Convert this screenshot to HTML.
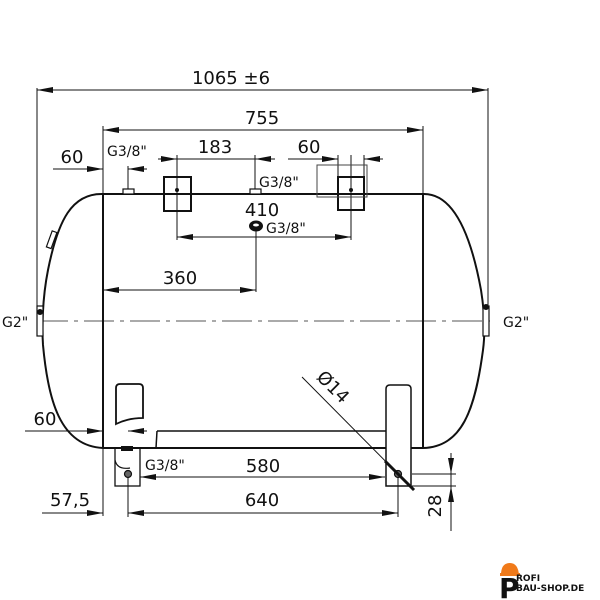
<!DOCTYPE html>
<html><head><meta charset="utf-8"><style>
html,body{margin:0;padding:0;background:#fff;}
svg{display:block;}
text{font-family:"DejaVu Sans","Liberation Sans",sans-serif;fill:#111;}
</style></head><body>
<svg width="600" height="600" viewBox="0 0 600 600" xmlns="http://www.w3.org/2000/svg">
<defs>
<marker id="a" viewBox="0 0 16 6" refX="16" refY="3" markerWidth="16" markerHeight="6" markerUnits="userSpaceOnUse" orient="auto"><path d="M0,0 L16,3 L0,6z" fill="#111"/></marker>
</defs>
<g stroke="#111" fill="none">
<g stroke-width="1">
<line x1="37" y1="88" x2="37" y2="320"/>
<line x1="488" y1="88" x2="488" y2="306"/>
<line x1="423" y1="126" x2="423" y2="194"/>
<line x1="103" y1="126" x2="103" y2="516"/>
<line x1="177" y1="155" x2="177" y2="240"/>
<line x1="255" y1="155" x2="255" y2="191"/>
<line x1="351" y1="155" x2="351" y2="240"/>
<line x1="338" y1="155" x2="338" y2="178"/>
<line x1="364" y1="155" x2="364" y2="178"/>
<line x1="128" y1="166" x2="128" y2="190"/>
<line x1="256" y1="230" x2="256" y2="292"/>
<line x1="128" y1="474" x2="128" y2="517"/>
<line x1="398" y1="474" x2="398" y2="517"/>
<line x1="412" y1="474" x2="456" y2="474"/>
<line x1="412" y1="486" x2="456" y2="486"/>
<line x1="451" y1="453" x2="451" y2="531"/>
</g>
<g stroke-width="1">
<line x1="60" y1="90" x2="37" y2="90" marker-end="url(#a)"/>
<line x1="60" y1="90" x2="488" y2="90" marker-end="url(#a)"/>
<line x1="150" y1="130" x2="103" y2="130" marker-end="url(#a)"/>
<line x1="150" y1="130" x2="423" y2="130" marker-end="url(#a)"/>
<line x1="53" y1="169" x2="103" y2="169" marker-end="url(#a)"/>
<line x1="147" y1="169" x2="128" y2="169" marker-end="url(#a)"/>
<line x1="158" y1="159" x2="177" y2="159" marker-end="url(#a)"/>
<line x1="177" y1="159" x2="255" y2="159"/>
<line x1="275" y1="159" x2="255" y2="159" marker-end="url(#a)"/>
<line x1="288" y1="159" x2="338" y2="159" marker-end="url(#a)"/>
<line x1="383" y1="159" x2="364" y2="159" marker-end="url(#a)"/>
<line x1="260" y1="237" x2="177" y2="237" marker-end="url(#a)"/>
<line x1="260" y1="237" x2="351" y2="237" marker-end="url(#a)"/>
<line x1="180" y1="290" x2="103" y2="290" marker-end="url(#a)"/>
<line x1="180" y1="290" x2="256" y2="290" marker-end="url(#a)"/>
<line x1="25" y1="431" x2="103" y2="431" marker-end="url(#a)"/>
<line x1="147" y1="431" x2="128" y2="431" marker-end="url(#a)"/>
<line x1="260" y1="477" x2="140" y2="477" marker-end="url(#a)"/>
<line x1="260" y1="477" x2="385" y2="477" marker-end="url(#a)"/>
<line x1="42" y1="513" x2="103" y2="513" marker-end="url(#a)"/>
<line x1="160" y1="513" x2="128" y2="513" marker-end="url(#a)"/>
<line x1="160" y1="513" x2="398" y2="513" marker-end="url(#a)"/>
<line x1="451" y1="453" x2="451" y2="474" marker-end="url(#a)"/>
<line x1="451" y1="506" x2="451" y2="486" marker-end="url(#a)"/>
</g>
<line x1="38" y1="321" x2="490" y2="321" stroke-width="1" stroke="#555" stroke-dasharray="30,6,4,6"/>
<g stroke-width="2">
<line x1="103" y1="194" x2="423" y2="194"/>
<line x1="103" y1="194" x2="103" y2="448"/>
<line x1="423" y1="194" x2="423" y2="448"/>
<line x1="103" y1="448" x2="386" y2="448"/>
<line x1="411" y1="448" x2="423" y2="448"/>
<path d="M103,194 C72,193 58,220 48,270 C42,300 42,330 43,345 C48,400 60,446 103,448"/>
<path d="M423,194 C452,193 470,230 481,290 C485,315 485,335 483,350 C475,410 462,447 423,448"/>
<line x1="157" y1="431" x2="386" y2="431" stroke-width="1.5"/>
<line x1="157" y1="431" x2="156" y2="448" stroke-width="1.5"/>
<rect x="164" y="177" width="27" height="34"/>
<rect x="338" y="177" width="26" height="33"/>
<path d="M116,424 L116,388 Q116,384 120,384 L139,384 Q143,384 143,388 L143,418 Q128,418 116,424z" stroke-width="1.8"/>
<path d="M386,486 L386,389 Q386,385 390,385 L407,385 Q411,385 411,389 L411,486z" stroke-width="1.5"/>
<rect x="115" y="448" width="25" height="38" stroke-width="1.3"/>
</g>
<rect x="317" y="165" width="50" height="32" stroke-width="1" stroke="#444"/>
<path d="M115,460 Q117,470 130,468" stroke-width="1.2"/>
<rect x="123" y="189" width="11" height="5" stroke-width="1.2" fill="#fff"/>
<rect x="250" y="189" width="11" height="5" stroke-width="1.2" fill="#fff"/>
<rect x="37" y="306" width="6" height="30" stroke-width="1.2" fill="#fff"/>
<rect x="483" y="306" width="6" height="30" stroke-width="1.2" fill="#fff"/>
<rect x="49" y="231" width="5" height="17" stroke-width="1.2" fill="#fff" transform="rotate(20 51 240)"/>
<circle cx="128" cy="474" r="3.5" stroke-width="1.2" fill="#666"/>
<circle cx="398" cy="474" r="3.5" stroke-width="1.2" fill="#666"/>
<line x1="302" y1="377" x2="414" y2="490" stroke-width="1"/>
<line x1="385" y1="461" x2="414" y2="490" stroke-width="3"/>
</g>
<g fill="#111">
<circle cx="177" cy="190" r="2"/>
<circle cx="351" cy="190" r="2"/>
<circle cx="40" cy="312" r="3"/>
<circle cx="486" cy="307" r="3"/>
<ellipse cx="256" cy="226" rx="7" ry="5.5"/>
<ellipse cx="256" cy="225" rx="3" ry="1.5" fill="#fff"/>
<rect x="121" y="446" width="12" height="5"/>
</g>
<g font-size="18">
<text x="231" y="84" text-anchor="middle">1065 ±6</text>
<text x="262" y="124" text-anchor="middle">755</text>
<text x="215" y="153" text-anchor="middle">183</text>
<text x="72" y="163" text-anchor="middle">60</text>
<text x="309" y="153" text-anchor="middle">60</text>
<text x="262" y="216" text-anchor="middle">410</text>
<text x="180" y="284" text-anchor="middle">360</text>
<text x="45" y="425" text-anchor="middle">60</text>
<text x="263" y="472" text-anchor="middle">580</text>
<text x="262" y="506" text-anchor="middle">640</text>
<text x="70" y="506" text-anchor="middle">57,5</text>
<text x="447" y="512" text-anchor="middle" transform="rotate(-90 441 512)">28</text>
<text x="333" y="393" text-anchor="middle" transform="rotate(45 333 387)">Ø14</text>
</g>
<g font-size="14">
<text x="107" y="156">G3/8"</text>
<text x="259" y="187">G3/8"</text>
<text x="266" y="233">G3/8"</text>
<text x="145" y="470">G3/8"</text>
<text x="2" y="327">G2"</text>
<text x="503" y="327">G2"</text>
</g>
<path d="M501,575 Q501,563 510,563 Q518,563 519,575z" fill="#f07a1a"/>
<rect x="500" y="573" width="20" height="3" fill="#f07a1a"/>
<text x="499" y="598" font-family="Liberation Serif,serif" font-weight="bold" font-size="28" fill="#111">P</text>
<text x="516" y="581" font-family="Liberation Serif,serif" font-weight="bold" font-size="9" fill="#111">ROFI</text>
<text x="516" y="591" font-family="Liberation Serif,serif" font-weight="bold" font-size="9" fill="#f07a1a">BAU-SHOP.DE</text>
</svg>
</body></html>
